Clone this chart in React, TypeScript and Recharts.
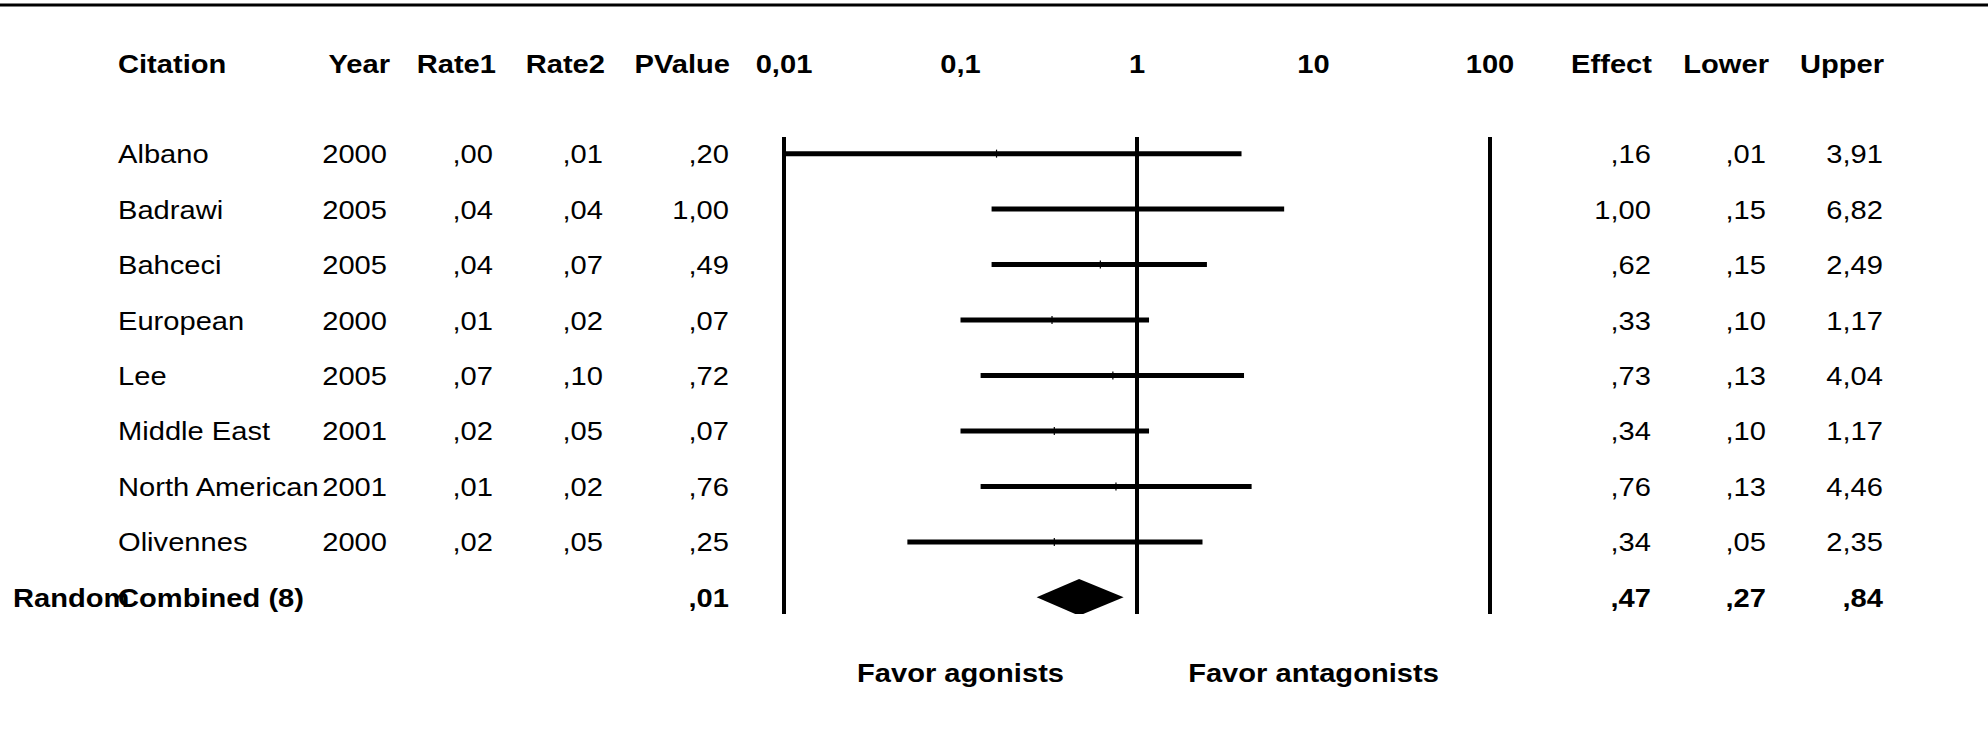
import { Area, ComposedChart, ErrorBar, ReferenceLine, Scatter, XAxis, YAxis } from "recharts";

// Study table
const citations = ["Albano", "Badrawi", "Bahceci", "European", "Lee", "Middle East", "North American", "Olivennes"];
const years = [2000, 2005, 2005, 2000, 2005, 2001, 2001, 2000];
const rate1 = [0.0, 0.04, 0.04, 0.01, 0.07, 0.02, 0.01, 0.02];
const rate2 = [0.01, 0.04, 0.07, 0.02, 0.1, 0.05, 0.02, 0.05];
const pValues = [0.2, 1.0, 0.49, 0.07, 0.72, 0.07, 0.76, 0.25];
const effects = [0.16, 1.0, 0.62, 0.33, 0.73, 0.34, 0.76, 0.34];
const lowers = [0.01, 0.15, 0.15, 0.1, 0.13, 0.1, 0.13, 0.05];
const uppers = [3.91, 6.82, 2.49, 1.17, 4.04, 1.17, 4.46, 2.35];

// Pooled estimate
const combinedModel = "Random";
const combinedLabel = "Combined (8)";
const combinedP = 0.01;
const combinedEffect = 0.47;
const combinedLower = 0.27;
const combinedUpper = 0.84;

const scaleTicks = [0.01, 0.1, 1, 10, 100];
const scaleTickLabels = ["0,01", "0,1", "1", "10", "100"];
const favorTicks = [0.1, 10];
const favorLabels = ["Favor agonists", "Favor antagonists"];

const W = 1988;
const H = 733;
const FONT = "'Liberation Sans', Arial, Helvetica, sans-serif";
const FS = 26;
const SX = 1.12;
const DIAMOND_HALF = 0.33;

const COL = { citation: 118, model: 13, year: 387, rate1: 493, rate2: 603, p: 729, effect: 1651, lower: 1766, upper: 1883 };
const HEADER_Y = 73;
const FAVOR_Y = 682;

const fmt = (v: number) => v.toFixed(2).replace(".", ",").replace(/^0,/, ",");

const combinedRow = citations.length;

const studyPoints = citations.map((_, i) => ({
  x: effects[i],
  row: i,
  ci: [effects[i] - lowers[i], uppers[i] - effects[i]],
}));

const diamond = [
  { x: combinedLower, band: [combinedRow, combinedRow] },
  { x: combinedEffect, band: [combinedRow - DIAMOND_HALF, combinedRow + DIAMOND_HALF] },
  { x: combinedUpper, band: [combinedRow, combinedRow] },
];

function Txt({ x, y, anchor = "start", bold = false, children }: any) {
  return (
    <text
      transform={`translate(${x},${y}) scale(${SX},1)`}
      textAnchor={anchor}
      fontFamily={FONT}
      fontSize={FS}
      fontWeight={bold ? 700 : 400}
      fill="#000"
    >
      {children}
    </text>
  );
}

function RowCells(props: any) {
  const i = props.payload.value as number;
  const y = props.y + 9.5;
  if (i === combinedRow) {
    return (
      <g>
        <Txt x={COL.model} y={y} bold>{combinedModel}</Txt>
        <Txt x={COL.citation} y={y} bold>{combinedLabel}</Txt>
        <Txt x={COL.p} y={y} anchor="end" bold>{fmt(combinedP)}</Txt>
        <Txt x={COL.effect} y={y} anchor="end" bold>{fmt(combinedEffect)}</Txt>
        <Txt x={COL.lower} y={y} anchor="end" bold>{fmt(combinedLower)}</Txt>
        <Txt x={COL.upper} y={y} anchor="end" bold>{fmt(combinedUpper)}</Txt>
      </g>
    );
  }
  return (
    <g>
      <Txt x={COL.citation} y={y}>{citations[i]}</Txt>
      <Txt x={COL.year} y={y} anchor="end">{years[i]}</Txt>
      <Txt x={COL.rate1} y={y} anchor="end">{fmt(rate1[i])}</Txt>
      <Txt x={COL.rate2} y={y} anchor="end">{fmt(rate2[i])}</Txt>
      <Txt x={COL.p} y={y} anchor="end">{fmt(pValues[i])}</Txt>
      <Txt x={COL.effect} y={y} anchor="end">{fmt(effects[i])}</Txt>
      <Txt x={COL.lower} y={y} anchor="end">{fmt(lowers[i])}</Txt>
      <Txt x={COL.upper} y={y} anchor="end">{fmt(uppers[i])}</Txt>
    </g>
  );
}

function ScaleTick(props: any) {
  const idx = scaleTicks.indexOf(props.payload.value);
  return <Txt x={props.x} y={HEADER_Y} anchor="middle" bold>{scaleTickLabels[idx]}</Txt>;
}

function FavorTick(props: any) {
  const idx = favorTicks.indexOf(props.payload.value);
  return <Txt x={props.x} y={FAVOR_Y} anchor="middle" bold>{favorLabels[idx]}</Txt>;
}

function EffectMark(props: any) {
  const { cx, cy } = props;
  return <line x1={cx} x2={cx} y1={cy - 4} y2={cy + 4} stroke="#000" strokeWidth={1.2} />;
}

const headers: [string, number, string][] = [
  ["Citation", COL.citation, "start"],
  ["Year", COL.year + 3, "end"],
  ["Rate1", COL.rate1 + 3, "end"],
  ["Rate2", COL.rate2 + 2, "end"],
  ["PValue", COL.p + 1, "end"],
  ["Effect", COL.effect + 1, "end"],
  ["Lower", COL.lower + 3, "end"],
  ["Upper", COL.upper + 1, "end"],
];

export default function App() {
  return (
    <div style={{ width: W, height: H, background: "#fff" }}>
      <style>{`body{margin:0}`}</style>
      <ComposedChart width={W} height={H} margin={{ top: 0, right: 498, bottom: 0, left: 0 }}>
        <XAxis
          xAxisId="scale"
          orientation="top"
          dataKey="x"
          type="number"
          scale="log"
          domain={[0.01, 100]}
          allowDataOverflow
          ticks={scaleTicks}
          height={137}
          axisLine={false}
          tickLine={false}
          tick={ScaleTick}
        />
        <XAxis
          xAxisId="favor"
          orientation="bottom"
          dataKey="x"
          type="number"
          scale="log"
          domain={[0.01, 100]}
          allowDataOverflow
          ticks={favorTicks}
          height={119}
          axisLine={false}
          tickLine={false}
          tick={FavorTick}
        />
        <YAxis
          dataKey="row"
          type="number"
          domain={[-0.3, combinedRow + 0.3]}
          reversed
          allowDataOverflow
          ticks={[...citations.map((_, i) => i), combinedRow]}
          width={784}
          axisLine={false}
          tickLine={false}
          tick={RowCells}
        />
        <ReferenceLine xAxisId="scale" x={0.01} stroke="#000" strokeWidth={4} />
        <ReferenceLine xAxisId="scale" x={1} stroke="#000" strokeWidth={4} />
        <ReferenceLine xAxisId="scale" x={100} stroke="#000" strokeWidth={4} />
        <Scatter xAxisId="scale" data={studyPoints} shape={EffectMark} isAnimationActive={false}>
          <ErrorBar dataKey="ci" direction="x" width={0} strokeWidth={5} stroke="#000" isAnimationActive={false} />
        </Scatter>
        <Area
          xAxisId="scale"
          data={diamond}
          dataKey="band"
          type="linear"
          fill="#000"
          fillOpacity={1}
          stroke="none"
          dot={false}
          activeDot={false}
          isAnimationActive={false}
        />
        <g>
          <line x1={0} x2={W} y1={5} y2={5} stroke="#000" strokeWidth={3} />
          {headers.map(([label, x, anchor]) => (
            <Txt key={label} x={x} y={HEADER_Y} anchor={anchor} bold>{label}</Txt>
          ))}
        </g>
      </ComposedChart>
    </div>
  );
}
